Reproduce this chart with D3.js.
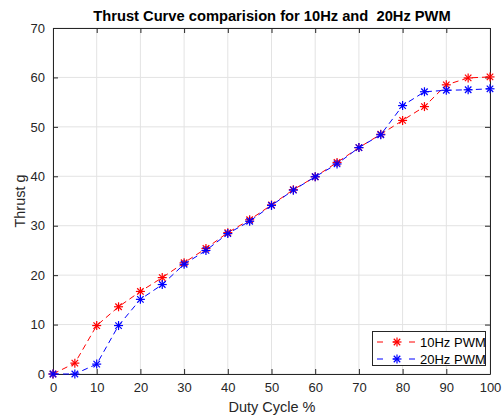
<!DOCTYPE html>
<html><head><meta charset="utf-8">
<script src="https://cdn.jsdelivr.net/npm/d3@7"></script>
<style>body{margin:0;background:#fff;} svg{display:block;font-family:"Liberation Sans",Arial,sans-serif;}</style>
</head><body>
<script>
const duty = [0,5,10,15,20,25,30,35,40,45,50,55,60,65,70,75,80,85,90,95,100];
const thrust10 = [0,2.2,9.8,13.6,16.7,19.5,22.5,25.4,28.6,31.2,34.2,37.3,39.9,42.8,45.8,48.5,51.3,54.1,58.5,59.9,60.1];
const thrust20 = [0,0,2.0,9.8,15.1,18.1,22.2,25.0,28.4,30.9,34.1,37.2,39.9,42.5,45.8,48.4,54.3,57.1,57.4,57.5,57.7];
const xTicks = [0,10,20,30,40,50,60,70,80,90,100];
const yTicks = [0,10,20,30,40,50,60,70];
const seriesNames = ["10Hz PWM","20Hz PWM"];
const seriesColors = ["#ff0000","#0000ff"];

const W=502,H=417, L=53, R=490, T=28, B=374;
const svg=d3.select("body").append("svg").attr("width",W).attr("height",H);
const x=d3.scaleLinear().domain([0,100]).range([L,R]);
const y=d3.scaleLinear().domain([0,70]).range([B,T]);

svg.append("rect").attr("x",L).attr("y",T).attr("width",R-L).attr("height",B-T).attr("fill","#fff");
// grid
const g=svg.append("g");
g.selectAll(".gx").data(xTicks).enter().append("line").attr("x1",d=>x(d)).attr("x2",d=>x(d)).attr("y1",T).attr("y2",B).attr("stroke","#e3e3e3").attr("stroke-width",1);
g.selectAll(".gy").data(yTicks).enter().append("line").attr("y1",d=>y(d)).attr("y2",d=>y(d)).attr("x1",L).attr("x2",R).attr("stroke","#e3e3e3").attr("stroke-width",1);

// axes
const ax=svg.append("g").attr("transform",`translate(0,${B})`).call(d3.axisBottom(x).tickValues(xTicks).tickSizeInner(-5).tickSizeOuter(0).tickPadding(9));
const ay=svg.append("g").attr("transform",`translate(${L},0)`).call(d3.axisLeft(y).tickValues(yTicks).tickSizeInner(-5).tickSizeOuter(0).tickPadding(8));
const axT=svg.append("g").attr("transform",`translate(0,${T})`).call(d3.axisTop(x).tickValues(xTicks).tickSizeInner(-5).tickSizeOuter(0).tickFormat(""));
const ayR=svg.append("g").attr("transform",`translate(${R},0)`).call(d3.axisRight(y).tickValues(yTicks).tickSizeInner(-5).tickSizeOuter(0).tickFormat(""));
[ax,ay,axT,ayR].forEach(a=>{a.selectAll("path").attr("stroke","#262626");a.selectAll("line").attr("stroke","#262626");a.selectAll("text").attr("fill","#262626").style("font-size","13px").style("font-family","'Liberation Sans',Arial,sans-serif");});

// asterisk marker
function star(sel, cx, cy, color){
  const r=4.5;
  const gg=sel.append("g").attr("transform",`translate(${cx},${cy})`).attr("stroke",color).attr("stroke-width",1.2);
  gg.append("line").attr("x1",-r).attr("x2",r).attr("y1",0).attr("y2",0);
  gg.append("line").attr("x1",0).attr("x2",0).attr("y1",-r).attr("y2",r);
  const d=r*0.72;
  gg.append("line").attr("x1",-d).attr("x2",d).attr("y1",-d).attr("y2",d);
  gg.append("line").attr("x1",-d).attr("x2",d).attr("y1",d).attr("y2",-d);
}

const series=[thrust10,thrust20];
const line=d3.line().x(d=>x(d[0])).y(d=>y(d[1]));
series.forEach((s,i)=>{
  const pts=duty.map((d,j)=>[d,s[j]]);
  svg.append("path").datum(pts).attr("d",line).attr("fill","none").attr("stroke",seriesColors[i]).attr("stroke-width",1).attr("stroke-dasharray","6,4");
  const mg=svg.append("g");
  pts.forEach(p=>star(mg,x(p[0]),y(p[1]),seriesColors[i]));
});

// legend
const lg=svg.append("g");
lg.append("rect").attr("x",372.5).attr("y",331.5).attr("width",113).attr("height",34).attr("fill","#fff").attr("stroke","#262626").attr("stroke-width",1);
seriesNames.forEach((n,i)=>{
  const yy=342+i*17;
  lg.append("line").attr("x1",377).attr("x2",417).attr("y1",yy).attr("y2",yy).attr("stroke",seriesColors[i]).attr("stroke-width",1).attr("stroke-dasharray","6,10");
  star(lg,397,yy,seriesColors[i]);
  lg.append("text").attr("x",420).attr("y",yy+4.5).text(n).attr("fill","#000").style("font-size","13px");
});

// labels
svg.append("text").attr("x",272).attr("y",21).attr("text-anchor","middle").style("font-weight","bold").style("font-size","14.7px").attr("fill","#000").text("Thrust Curve comparision for 10Hz and  20Hz PWM").attr("xml:space","preserve").style("white-space","pre");
svg.append("text").attr("x",272).attr("y",412).attr("text-anchor","middle").style("font-size","14.5px").attr("fill","#262626").text("Duty Cycle %");
svg.append("text").attr("transform","translate(25,201) rotate(-90)").attr("text-anchor","middle").style("font-size","14.5px").attr("fill","#262626").text("Thrust g");
</script>
</body></html>
